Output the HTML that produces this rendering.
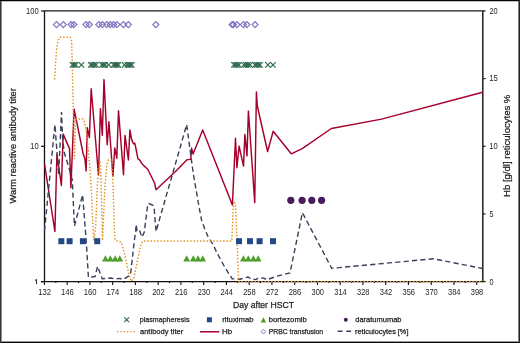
<!DOCTYPE html>
<html><head><meta charset="utf-8"><style>
html,body{margin:0;padding:0;background:#fff;}
body{width:520px;height:343px;overflow:hidden;position:relative;font-family:"Liberation Sans",sans-serif;}
svg{position:absolute;left:0;top:0;will-change:transform;}
.b{position:absolute;}
</style></head><body>
<svg width="520" height="343" viewBox="0 0 520 343">
<line x1="44.5" y1="10.9" x2="44.5" y2="281.6" stroke="#111" stroke-width="1.3"/>
<line x1="43.9" y1="10.9" x2="483.6" y2="10.9" stroke="#1a1a1a" stroke-width="1.3"/>
<line x1="482.8" y1="10.9" x2="482.8" y2="281.6" stroke="#2e2e2e" stroke-width="1.6"/>
<line x1="41.0" y1="281.60" x2="44.5" y2="281.60" stroke="#111" stroke-width="1.2"/>
<line x1="41.0" y1="146.30" x2="44.5" y2="146.30" stroke="#111" stroke-width="1.2"/>
<line x1="41.0" y1="11.00" x2="44.5" y2="11.00" stroke="#111" stroke-width="1.2"/>
<line x1="482.8" y1="281.60" x2="485.6" y2="281.60" stroke="#222" stroke-width="1.2"/>
<line x1="482.8" y1="213.93" x2="485.6" y2="213.93" stroke="#222" stroke-width="1.2"/>
<line x1="482.8" y1="146.25" x2="485.6" y2="146.25" stroke="#222" stroke-width="1.2"/>
<line x1="482.8" y1="78.58" x2="485.6" y2="78.58" stroke="#222" stroke-width="1.2"/>
<line x1="482.8" y1="10.90" x2="485.6" y2="10.90" stroke="#222" stroke-width="1.2"/>
<line x1="44.40" y1="281.6" x2="44.40" y2="285.0" stroke="#111" stroke-width="1.1"/>
<line x1="55.78" y1="281.6" x2="55.78" y2="283.1" stroke="#111" stroke-width="1.1"/>
<line x1="67.15" y1="281.6" x2="67.15" y2="285.0" stroke="#111" stroke-width="1.1"/>
<line x1="78.53" y1="281.6" x2="78.53" y2="283.1" stroke="#111" stroke-width="1.1"/>
<line x1="89.91" y1="281.6" x2="89.91" y2="285.0" stroke="#111" stroke-width="1.1"/>
<line x1="101.28" y1="281.6" x2="101.28" y2="283.1" stroke="#111" stroke-width="1.1"/>
<line x1="112.66" y1="281.6" x2="112.66" y2="285.0" stroke="#111" stroke-width="1.1"/>
<line x1="124.03" y1="281.6" x2="124.03" y2="283.1" stroke="#111" stroke-width="1.1"/>
<line x1="135.41" y1="281.6" x2="135.41" y2="285.0" stroke="#111" stroke-width="1.1"/>
<line x1="146.79" y1="281.6" x2="146.79" y2="283.1" stroke="#111" stroke-width="1.1"/>
<line x1="158.16" y1="281.6" x2="158.16" y2="285.0" stroke="#111" stroke-width="1.1"/>
<line x1="169.54" y1="281.6" x2="169.54" y2="283.1" stroke="#111" stroke-width="1.1"/>
<line x1="180.92" y1="281.6" x2="180.92" y2="285.0" stroke="#111" stroke-width="1.1"/>
<line x1="192.29" y1="281.6" x2="192.29" y2="283.1" stroke="#111" stroke-width="1.1"/>
<line x1="203.67" y1="281.6" x2="203.67" y2="285.0" stroke="#111" stroke-width="1.1"/>
<line x1="215.05" y1="281.6" x2="215.05" y2="283.1" stroke="#111" stroke-width="1.1"/>
<line x1="226.42" y1="281.6" x2="226.42" y2="285.0" stroke="#111" stroke-width="1.1"/>
<line x1="237.80" y1="281.6" x2="237.80" y2="283.1" stroke="#111" stroke-width="1.1"/>
<line x1="249.18" y1="281.6" x2="249.18" y2="285.0" stroke="#111" stroke-width="1.1"/>
<line x1="260.55" y1="281.6" x2="260.55" y2="283.1" stroke="#111" stroke-width="1.1"/>
<line x1="271.93" y1="281.6" x2="271.93" y2="285.0" stroke="#111" stroke-width="1.1"/>
<line x1="283.30" y1="281.6" x2="283.30" y2="283.1" stroke="#111" stroke-width="1.1"/>
<line x1="294.68" y1="281.6" x2="294.68" y2="285.0" stroke="#111" stroke-width="1.1"/>
<line x1="306.06" y1="281.6" x2="306.06" y2="283.1" stroke="#111" stroke-width="1.1"/>
<line x1="317.43" y1="281.6" x2="317.43" y2="285.0" stroke="#111" stroke-width="1.1"/>
<line x1="328.81" y1="281.6" x2="328.81" y2="283.1" stroke="#111" stroke-width="1.1"/>
<line x1="340.19" y1="281.6" x2="340.19" y2="285.0" stroke="#111" stroke-width="1.1"/>
<line x1="351.56" y1="281.6" x2="351.56" y2="283.1" stroke="#111" stroke-width="1.1"/>
<line x1="362.94" y1="281.6" x2="362.94" y2="285.0" stroke="#111" stroke-width="1.1"/>
<line x1="374.32" y1="281.6" x2="374.32" y2="283.1" stroke="#111" stroke-width="1.1"/>
<line x1="385.69" y1="281.6" x2="385.69" y2="285.0" stroke="#111" stroke-width="1.1"/>
<line x1="397.07" y1="281.6" x2="397.07" y2="283.1" stroke="#111" stroke-width="1.1"/>
<line x1="408.44" y1="281.6" x2="408.44" y2="285.0" stroke="#111" stroke-width="1.1"/>
<line x1="419.82" y1="281.6" x2="419.82" y2="283.1" stroke="#111" stroke-width="1.1"/>
<line x1="431.20" y1="281.6" x2="431.20" y2="285.0" stroke="#111" stroke-width="1.1"/>
<line x1="442.57" y1="281.6" x2="442.57" y2="283.1" stroke="#111" stroke-width="1.1"/>
<line x1="453.95" y1="281.6" x2="453.95" y2="285.0" stroke="#111" stroke-width="1.1"/>
<line x1="465.33" y1="281.6" x2="465.33" y2="283.1" stroke="#111" stroke-width="1.1"/>
<line x1="476.70" y1="281.6" x2="476.70" y2="285.0" stroke="#111" stroke-width="1.1"/>
<polyline points="44.50,163.90 54.90,231.50 56.90,154.40 61.40,185.50 63.20,134.00 68.00,145.40 69.50,148.30 70.90,187.80 74.10,109.10 83.20,154.00 84.90,158.70 86.10,170.90 87.30,127.80 89.40,137.60 91.20,88.80 98.50,175.30 100.40,108.80 102.30,135.20 104.00,79.60 107.20,144.80 108.90,121.80 112.90,176.20 114.80,147.90 116.80,158.20 118.50,110.70 123.50,174.80 125.00,135.40 128.40,160.00 129.90,129.90 131.60,139.40 133.40,143.70 134.75,143.20 135.45,146.00 137.90,158.60 140.00,160.40 141.05,162.50 143.50,165.35 147.70,169.20 149.10,172.00 154.70,183.20 155.75,189.00 156.10,189.70 176.00,171.00 187.00,159.80 190.10,159.40 190.80,158.60 191.60,148.10 193.10,154.10 202.70,129.90 232.40,204.90 235.50,138.30 236.90,167.80 239.10,146.10 243.50,166.10 244.90,134.40 247.00,155.90 248.40,111.10 254.75,202.60 256.40,91.90 257.30,106.00 267.60,151.50 273.20,131.30 291.20,153.80 302.20,148.60 331.40,128.50 381.60,119.10 482.60,92.20" fill="none" stroke="#a6002c" stroke-width="1.45" stroke-linejoin="round"/>
<polyline points="44.50,231.00 54.90,124.60 58.70,175.00 61.50,112.00 62.50,137.00 64.20,152.30 69.40,169.30 72.30,180.00 74.40,226.00 82.60,194.80 86.20,240.80 88.40,277.20 89.10,277.20 95.00,276.50 97.60,266.30 102.20,278.70 106.60,278.40 111.00,278.00 115.30,279.00 119.70,278.40 123.20,279.40 130.50,274.80 134.40,240.00 135.60,232.00 136.10,224.50 137.00,230.50 139.20,229.50 142.00,237.20 144.30,232.00 147.80,204.10 148.90,203.50 153.00,205.30 154.20,208.20 156.00,231.50 186.70,124.60 193.10,172.50 198.70,205.00 201.60,220.20 204.50,228.30 208.00,236.50 213.30,245.00 217.10,253.10 223.60,265.00 229.50,274.80 232.20,278.70 240.00,279.20 248.00,277.00 251.50,279.30 256.00,279.50 259.00,277.50 264.00,278.30 267.00,279.70 277.30,276.10 290.00,273.00 302.40,212.70 331.70,268.30 433.30,258.80 482.60,268.50" fill="none" stroke="#364059" stroke-width="1.4" stroke-dasharray="5.2,3.2"/>
<line x1="41.0" y1="281.6" x2="483.6" y2="281.6" stroke="#111" stroke-width="1.4"/>
<polyline points="54.60,79.50 56.50,50.00 58.00,40.50 60.00,37.20 70.20,37.20 71.50,40.00 72.20,60.00 73.20,110.00 74.40,159.00 75.30,125.00 76.20,119.00 83.20,119.00 84.60,122.50 86.60,132.50 87.90,146.50 89.60,164.00 91.80,198.00 92.90,225.00 93.90,240.40 95.70,225.00 97.40,185.00 99.60,161.00 100.30,161.00 101.00,178.00 101.80,210.00 102.50,240.40 103.60,215.00 105.00,186.40 106.80,165.30 108.30,160.00 111.50,160.00 112.50,172.00 113.50,200.00 114.60,235.00 115.30,240.40 118.20,241.20 120.90,242.00 122.50,246.00 124.10,252.40 125.70,258.80 127.30,266.90 128.90,274.00 131.10,281.30 133.70,278.70 136.40,266.20 139.00,253.10 141.00,244.00 143.00,241.00 231.80,241.00 232.50,225.00 233.20,205.00 234.30,201.20 235.60,206.00 236.60,230.00 237.60,255.00 238.60,281.60 482.60,281.60" fill="none" stroke="#e3901f" stroke-width="1.45" stroke-dasharray="1.45,1.85"/>
<rect x="58.35" y="238.20" width="6" height="6" fill="#234985"/>
<rect x="66.60" y="238.20" width="6" height="6" fill="#234985"/>
<rect x="79.90" y="238.20" width="6" height="6" fill="#234985"/>
<rect x="94.20" y="238.20" width="6" height="6" fill="#234985"/>
<rect x="236.00" y="238.20" width="6" height="6" fill="#234985"/>
<rect x="247.00" y="238.20" width="6" height="6" fill="#234985"/>
<rect x="256.60" y="238.20" width="6" height="6" fill="#234985"/>
<rect x="270.00" y="238.20" width="6" height="6" fill="#234985"/>
<path d="M102.00,261.4 L105.40,255.2 L108.80,261.4 Z" fill="#4f9f2c"/>
<path d="M106.90,261.4 L110.30,255.2 L113.70,261.4 Z" fill="#4f9f2c"/>
<path d="M111.80,261.4 L115.20,255.2 L118.60,261.4 Z" fill="#4f9f2c"/>
<path d="M116.40,261.4 L119.80,255.2 L123.20,261.4 Z" fill="#4f9f2c"/>
<path d="M183.30,261.4 L186.70,255.2 L190.10,261.4 Z" fill="#4f9f2c"/>
<path d="M189.90,261.4 L193.30,255.2 L196.70,261.4 Z" fill="#4f9f2c"/>
<path d="M194.60,261.4 L198.00,255.2 L201.40,261.4 Z" fill="#4f9f2c"/>
<path d="M199.30,261.4 L202.70,255.2 L206.10,261.4 Z" fill="#4f9f2c"/>
<path d="M240.00,261.4 L243.40,255.2 L246.80,261.4 Z" fill="#4f9f2c"/>
<path d="M244.90,261.4 L248.30,255.2 L251.70,261.4 Z" fill="#4f9f2c"/>
<path d="M250.00,261.4 L253.40,255.2 L256.80,261.4 Z" fill="#4f9f2c"/>
<path d="M254.80,261.4 L258.20,255.2 L261.60,261.4 Z" fill="#4f9f2c"/>
<circle cx="290.8" cy="200.3" r="3.6" fill="#4a1b5c"/>
<circle cx="302.1" cy="200.3" r="3.6" fill="#4a1b5c"/>
<circle cx="311.8" cy="200.3" r="3.6" fill="#4a1b5c"/>
<circle cx="321.6" cy="200.3" r="3.6" fill="#4a1b5c"/>
<path d="M69.80,62.10 L75.20,67.70 M69.80,67.70 L75.20,62.10" stroke="#2f6b4e" stroke-width="1.2" fill="none"/>
<path d="M71.50,62.10 L76.90,67.70 M71.50,67.70 L76.90,62.10" stroke="#2f6b4e" stroke-width="1.2" fill="none"/>
<path d="M73.10,62.10 L78.50,67.70 M73.10,67.70 L78.50,62.10" stroke="#2f6b4e" stroke-width="1.2" fill="none"/>
<path d="M78.70,62.10 L84.10,67.70 M78.70,67.70 L84.10,62.10" stroke="#2f6b4e" stroke-width="1.2" fill="none"/>
<path d="M88.00,62.10 L93.40,67.70 M88.00,67.70 L93.40,62.10" stroke="#2f6b4e" stroke-width="1.2" fill="none"/>
<path d="M89.80,62.10 L95.20,67.70 M89.80,67.70 L95.20,62.10" stroke="#2f6b4e" stroke-width="1.2" fill="none"/>
<path d="M91.50,62.10 L96.90,67.70 M91.50,67.70 L96.90,62.10" stroke="#2f6b4e" stroke-width="1.2" fill="none"/>
<path d="M93.30,62.10 L98.70,67.70 M93.30,67.70 L98.70,62.10" stroke="#2f6b4e" stroke-width="1.2" fill="none"/>
<path d="M99.20,62.10 L104.60,67.70 M99.20,67.70 L104.60,62.10" stroke="#2f6b4e" stroke-width="1.2" fill="none"/>
<path d="M100.80,62.10 L106.20,67.70 M100.80,67.70 L106.20,62.10" stroke="#2f6b4e" stroke-width="1.2" fill="none"/>
<path d="M102.40,62.10 L107.80,67.70 M102.40,67.70 L107.80,62.10" stroke="#2f6b4e" stroke-width="1.2" fill="none"/>
<path d="M105.90,62.10 L111.30,67.70 M105.90,67.70 L111.30,62.10" stroke="#2f6b4e" stroke-width="1.2" fill="none"/>
<path d="M110.90,62.10 L116.30,67.70 M110.90,67.70 L116.30,62.10" stroke="#2f6b4e" stroke-width="1.2" fill="none"/>
<path d="M112.50,62.10 L117.90,67.70 M112.50,67.70 L117.90,62.10" stroke="#2f6b4e" stroke-width="1.2" fill="none"/>
<path d="M114.10,62.10 L119.50,67.70 M114.10,67.70 L119.50,62.10" stroke="#2f6b4e" stroke-width="1.2" fill="none"/>
<path d="M115.70,62.10 L121.10,67.70 M115.70,67.70 L121.10,62.10" stroke="#2f6b4e" stroke-width="1.2" fill="none"/>
<path d="M121.80,62.10 L127.20,67.70 M121.80,67.70 L127.20,62.10" stroke="#2f6b4e" stroke-width="1.2" fill="none"/>
<path d="M124.60,62.10 L130.00,67.70 M124.60,67.70 L130.00,62.10" stroke="#2f6b4e" stroke-width="1.2" fill="none"/>
<path d="M126.10,62.10 L131.50,67.70 M126.10,67.70 L131.50,62.10" stroke="#2f6b4e" stroke-width="1.2" fill="none"/>
<path d="M127.60,62.10 L133.00,67.70 M127.60,67.70 L133.00,62.10" stroke="#2f6b4e" stroke-width="1.2" fill="none"/>
<path d="M129.10,62.10 L134.50,67.70 M129.10,67.70 L134.50,62.10" stroke="#2f6b4e" stroke-width="1.2" fill="none"/>
<path d="M231.20,62.10 L236.60,67.70 M231.20,67.70 L236.60,62.10" stroke="#2f6b4e" stroke-width="1.2" fill="none"/>
<path d="M232.90,62.10 L238.30,67.70 M232.90,67.70 L238.30,62.10" stroke="#2f6b4e" stroke-width="1.2" fill="none"/>
<path d="M234.50,62.10 L239.90,67.70 M234.50,67.70 L239.90,62.10" stroke="#2f6b4e" stroke-width="1.2" fill="none"/>
<path d="M236.20,62.10 L241.60,67.70 M236.20,67.70 L241.60,62.10" stroke="#2f6b4e" stroke-width="1.2" fill="none"/>
<path d="M241.30,62.10 L246.70,67.70 M241.30,67.70 L246.70,62.10" stroke="#2f6b4e" stroke-width="1.2" fill="none"/>
<path d="M243.30,62.10 L248.70,67.70 M243.30,67.70 L248.70,62.10" stroke="#2f6b4e" stroke-width="1.2" fill="none"/>
<path d="M245.30,62.10 L250.70,67.70 M245.30,67.70 L250.70,62.10" stroke="#2f6b4e" stroke-width="1.2" fill="none"/>
<path d="M247.30,62.10 L252.70,67.70 M247.30,67.70 L252.70,62.10" stroke="#2f6b4e" stroke-width="1.2" fill="none"/>
<path d="M252.40,62.10 L257.80,67.70 M252.40,67.70 L257.80,62.10" stroke="#2f6b4e" stroke-width="1.2" fill="none"/>
<path d="M254.00,62.10 L259.40,67.70 M254.00,67.70 L259.40,62.10" stroke="#2f6b4e" stroke-width="1.2" fill="none"/>
<path d="M255.70,62.10 L261.10,67.70 M255.70,67.70 L261.10,62.10" stroke="#2f6b4e" stroke-width="1.2" fill="none"/>
<path d="M257.30,62.10 L262.70,67.70 M257.30,67.70 L262.70,62.10" stroke="#2f6b4e" stroke-width="1.2" fill="none"/>
<path d="M265.20,62.10 L270.60,67.70 M265.20,67.70 L270.60,62.10" stroke="#2f6b4e" stroke-width="1.2" fill="none"/>
<path d="M270.30,62.10 L275.70,67.70 M270.30,67.70 L275.70,62.10" stroke="#2f6b4e" stroke-width="1.2" fill="none"/>
<path d="M53.50,24.6 L56.50,21.6 L59.50,24.6 L56.50,27.6 Z" stroke="#7f77c2" stroke-width="1.3" fill="none"/>
<path d="M60.30,24.6 L63.30,21.6 L66.30,24.6 L63.30,27.6 Z" stroke="#7f77c2" stroke-width="1.3" fill="none"/>
<path d="M68.10,24.6 L71.10,21.6 L74.10,24.6 L71.10,27.6 Z" stroke="#7f77c2" stroke-width="1.3" fill="none"/>
<path d="M70.80,24.6 L73.80,21.6 L76.80,24.6 L73.80,27.6 Z" stroke="#7f77c2" stroke-width="1.3" fill="none"/>
<path d="M83.00,24.6 L86.00,21.6 L89.00,24.6 L86.00,27.6 Z" stroke="#7f77c2" stroke-width="1.3" fill="none"/>
<path d="M86.30,24.6 L89.30,21.6 L92.30,24.6 L89.30,27.6 Z" stroke="#7f77c2" stroke-width="1.3" fill="none"/>
<path d="M95.80,24.6 L98.80,21.6 L101.80,24.6 L98.80,27.6 Z" stroke="#7f77c2" stroke-width="1.3" fill="none"/>
<path d="M99.30,24.6 L102.30,21.6 L105.30,24.6 L102.30,27.6 Z" stroke="#7f77c2" stroke-width="1.3" fill="none"/>
<path d="M103.70,24.6 L106.70,21.6 L109.70,24.6 L106.70,27.6 Z" stroke="#7f77c2" stroke-width="1.3" fill="none"/>
<path d="M107.20,24.6 L110.20,21.6 L113.20,24.6 L110.20,27.6 Z" stroke="#7f77c2" stroke-width="1.3" fill="none"/>
<path d="M110.50,24.6 L113.50,21.6 L116.50,24.6 L113.50,27.6 Z" stroke="#7f77c2" stroke-width="1.3" fill="none"/>
<path d="M113.90,24.6 L116.90,21.6 L119.90,24.6 L116.90,27.6 Z" stroke="#7f77c2" stroke-width="1.3" fill="none"/>
<path d="M120.40,24.6 L123.40,21.6 L126.40,24.6 L123.40,27.6 Z" stroke="#7f77c2" stroke-width="1.3" fill="none"/>
<path d="M125.30,24.6 L128.30,21.6 L131.30,24.6 L128.30,27.6 Z" stroke="#7f77c2" stroke-width="1.3" fill="none"/>
<path d="M152.80,24.6 L155.80,21.6 L158.80,24.6 L155.80,27.6 Z" stroke="#7f77c2" stroke-width="1.3" fill="none"/>
<path d="M229.10,24.6 L232.10,21.6 L235.10,24.6 L232.10,27.6 Z" stroke="#7f77c2" stroke-width="1.3" fill="none"/>
<path d="M230.30,24.6 L233.30,21.6 L236.30,24.6 L233.30,27.6 Z" stroke="#7f77c2" stroke-width="1.3" fill="none"/>
<path d="M233.90,24.6 L236.90,21.6 L239.90,24.6 L236.90,27.6 Z" stroke="#7f77c2" stroke-width="1.3" fill="none"/>
<path d="M240.40,24.6 L243.40,21.6 L246.40,24.6 L243.40,27.6 Z" stroke="#7f77c2" stroke-width="1.3" fill="none"/>
<path d="M243.80,24.6 L246.80,21.6 L249.80,24.6 L246.80,27.6 Z" stroke="#7f77c2" stroke-width="1.3" fill="none"/>
<path d="M252.00,24.6 L255.00,21.6 L258.00,24.6 L255.00,27.6 Z" stroke="#7f77c2" stroke-width="1.3" fill="none"/>
<path d="M35.0,280.6 L36.5,279.3 L36.5,284.1" fill="none" stroke="#222" stroke-width="0.95"/>
<path d="M124.3,317.4 L129.1,322.2 M124.3,322.2 L129.1,317.4" stroke="#2f6b4e" stroke-width="1.15"/>
<rect x="206.9" y="317.3" width="5" height="5" fill="#234985"/>
<path d="M260.7,322.4 L263.4,317.2 L266.1,322.4 Z" fill="#4f9f2c"/>
<circle cx="345.8" cy="319.7" r="2" fill="#4a1b5c"/>
<line x1="117" y1="331.6" x2="135.5" y2="331.6" stroke="#e3901f" stroke-width="1.3" stroke-dasharray="1.3,2.0"/>
<line x1="200" y1="331.8" x2="219.3" y2="331.8" stroke="#a6002c" stroke-width="1.5"/>
<path d="M261.2,331.7 L263.5,329.4 L265.8,331.7 L263.5,334.0 Z" stroke="#7f77c2" stroke-width="1.0" fill="none"/>
<line x1="337.7" y1="331.3" x2="351.5" y2="331.3" stroke="#364059" stroke-width="1.4" stroke-dasharray="4.8,3.8"/>
<g font-family="Liberation Sans, sans-serif" fill="#1e1e1e" stroke="#1e1e1e" stroke-width="0.25"><text x="232.89" y="308.00" font-size="8.8" textLength="61.11" lengthAdjust="spacingAndGlyphs" >Day after HSCT</text>
<text transform="translate(16.20,203.40) rotate(-90)" x="-0.04" y="0" font-size="9.6" textLength="115.28" lengthAdjust="spacingAndGlyphs" >Warm reactive antibody titer</text>
<text transform="translate(510.20,196.20) rotate(-90)" x="-0.78" y="0" font-size="9.4" textLength="102.32" lengthAdjust="spacingAndGlyphs" >Hb [g/dl] reticulocytes %</text>
<text x="139.85" y="321.90" font-size="7.7" textLength="49.61" lengthAdjust="spacingAndGlyphs" >plasmapheresis</text>
<text x="222.19" y="321.90" font-size="7.7" textLength="31.32" lengthAdjust="spacingAndGlyphs" >rituximab</text>
<text x="268.71" y="321.90" font-size="7.7" textLength="38.11" lengthAdjust="spacingAndGlyphs" >bortezomib</text>
<text x="355.29" y="321.90" font-size="7.7" textLength="46.22" lengthAdjust="spacingAndGlyphs" >daratumumab</text>
<text x="139.98" y="333.60" font-size="7.7" textLength="43.24" lengthAdjust="spacingAndGlyphs" >antibody titer</text>
<text x="222.05" y="333.60" font-size="7.7" textLength="10.18" lengthAdjust="spacingAndGlyphs" >Hb</text>
<text x="268.64" y="333.60" font-size="7.7" textLength="54.50" lengthAdjust="spacingAndGlyphs" >PRBC transfusion</text>
<text x="355.12" y="333.60" font-size="7.7" textLength="53.31" lengthAdjust="spacingAndGlyphs" >reticulocytes [%]</text></g>
<g font-family="Liberation Sans, sans-serif" fill="#1e1e1e" stroke="#1e1e1e" stroke-width="0.0"><text x="38.16" y="295.00" font-size="8.4" textLength="12.88" lengthAdjust="spacingAndGlyphs" >132</text>
<text x="60.92" y="295.00" font-size="8.4" textLength="12.82" lengthAdjust="spacingAndGlyphs" >146</text>
<text x="83.67" y="295.00" font-size="8.4" textLength="12.78" lengthAdjust="spacingAndGlyphs" >160</text>
<text x="106.43" y="295.00" font-size="8.4" textLength="12.70" lengthAdjust="spacingAndGlyphs" >174</text>
<text x="129.18" y="295.00" font-size="8.4" textLength="12.82" lengthAdjust="spacingAndGlyphs" >188</text>
<text x="152.13" y="295.00" font-size="8.4" textLength="12.66" lengthAdjust="spacingAndGlyphs" >202</text>
<text x="174.89" y="295.00" font-size="8.4" textLength="12.61" lengthAdjust="spacingAndGlyphs" >216</text>
<text x="197.64" y="295.00" font-size="8.4" textLength="12.57" lengthAdjust="spacingAndGlyphs" >230</text>
<text x="220.40" y="295.00" font-size="8.4" textLength="12.50" lengthAdjust="spacingAndGlyphs" >244</text>
<text x="243.15" y="295.00" font-size="8.4" textLength="12.61" lengthAdjust="spacingAndGlyphs" >258</text>
<text x="265.90" y="295.00" font-size="8.4" textLength="12.66" lengthAdjust="spacingAndGlyphs" >272</text>
<text x="288.65" y="295.00" font-size="8.4" textLength="12.61" lengthAdjust="spacingAndGlyphs" >286</text>
<text x="311.50" y="295.00" font-size="8.4" textLength="12.47" lengthAdjust="spacingAndGlyphs" >300</text>
<text x="334.25" y="295.00" font-size="8.4" textLength="12.40" lengthAdjust="spacingAndGlyphs" >314</text>
<text x="357.00" y="295.00" font-size="8.4" textLength="12.51" lengthAdjust="spacingAndGlyphs" >328</text>
<text x="379.76" y="295.00" font-size="8.4" textLength="12.57" lengthAdjust="spacingAndGlyphs" >342</text>
<text x="402.51" y="295.00" font-size="8.4" textLength="12.51" lengthAdjust="spacingAndGlyphs" >356</text>
<text x="425.26" y="295.00" font-size="8.4" textLength="12.47" lengthAdjust="spacingAndGlyphs" >370</text>
<text x="448.02" y="295.00" font-size="8.4" textLength="12.40" lengthAdjust="spacingAndGlyphs" >384</text>
<text x="470.77" y="295.00" font-size="8.4" textLength="12.51" lengthAdjust="spacingAndGlyphs" >398</text>
<text x="30.23" y="148.90" font-size="8.4" textLength="8.36" lengthAdjust="spacingAndGlyphs" >10</text>
<text x="26.03" y="13.60" font-size="8.4" textLength="12.56" lengthAdjust="spacingAndGlyphs" >100</text>
<text x="489.52" y="284.50" font-size="8.4" textLength="3.95" lengthAdjust="spacingAndGlyphs" >0</text>
<text x="489.51" y="216.83" font-size="8.4" textLength="3.98" lengthAdjust="spacingAndGlyphs" >5</text>
<text x="489.22" y="149.15" font-size="8.4" textLength="8.47" lengthAdjust="spacingAndGlyphs" >10</text>
<text x="489.22" y="81.48" font-size="8.4" textLength="8.50" lengthAdjust="spacingAndGlyphs" >15</text>
<text x="489.43" y="13.80" font-size="8.4" textLength="8.26" lengthAdjust="spacingAndGlyphs" >20</text></g>
</svg>
<div class="b" style="left:0;top:0;width:520px;height:1px;background:#050505"></div>
<div class="b" style="left:0;top:1px;width:520px;height:1px;background:#bebebe"></div>
<div class="b" style="left:0;top:341px;width:520px;height:1px;background:#969696"></div>
<div class="b" style="left:0;top:342px;width:520px;height:1px;background:#0a0a0a"></div>
<div class="b" style="left:1px;top:1px;width:1px;height:341px;background:#8c8c8c"></div>
<div class="b" style="left:0;top:1px;width:1px;height:342px;background:#363636"></div>
<div class="b" style="left:518px;top:1px;width:1px;height:341px;background:#808080"></div>
<div class="b" style="left:519px;top:0;width:1px;height:343px;background:#222"></div>
</body></html>
